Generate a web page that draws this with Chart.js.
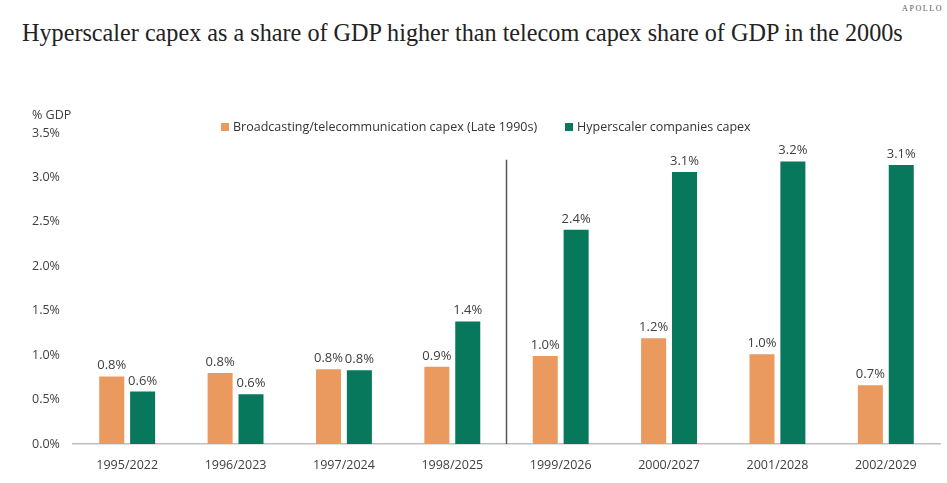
<!DOCTYPE html>
<html lang="en">
<head>
  <meta charset="UTF-8">
  <title>Hyperscaler capex vs telecom capex</title>
  <style>
    body {
      margin: 0;
      width: 947px;
      height: 483px;
      background: #fff;
      overflow: hidden;
      position: relative;
      font-family: "Open Sans", "Noto Sans", sans-serif;
      color: #404040;
    }
    #brand {
      position: absolute;
      left: 902px;
      top: 4px;
      font-family: "Liberation Serif", serif;
      font-size: 8px;
      letter-spacing: 1.6px;
      color: #555;
    }
    #title {
      position: absolute;
      left: 22px;
      top: 19px;
      font-family: "Liberation Serif", serif;
      font-size: 24.2px;
      color: #222;
      white-space: nowrap;
    }
    #unit {
      position: absolute;
      left: 32px;
      top: 106px;
      font-size: 12.5px;
    }
    #legend {
      position: absolute;
      left: 221px;
      top: 118px;
      font-size: 12.5px;
      color: #333;
      white-space: nowrap;
    }
    #legend span.item { margin-right: 28px; }
    #legend span.box {
      display: inline-block;
      width: 8px;
      height: 8px;
      margin-right: 4px;
    }
    #wrap {
      position: absolute;
      left: 0;
      top: 0;
      width: 947px;
      height: 483px;
    }
  </style>
</head>
<body>
  <div id="brand">APOLLO</div>
  <div id="title">Hyperscaler capex as a share of GDP higher than telecom capex share of GDP in the 2000s</div>
  <div id="wrap"><canvas id="chart"></canvas></div>
  <div id="unit">% GDP</div>
  <div id="legend"></div>

  <script src="https://cdn.jsdelivr.net/npm/chart.js"></script>
  <script>
    const periods = ['1995/2022', '1996/2023', '1997/2024', '1998/2025', '1999/2026', '2000/2027', '2001/2028', '2002/2029'];
    const telecomCapex = [0.76, 0.80, 0.84, 0.87, 0.99, 1.19, 1.01, 0.66];
    const hyperscalerCapex = [0.59, 0.56, 0.83, 1.38, 2.41, 3.06, 3.18, 3.14];
    const seriesNames = ['Broadcasting/telecommunication capex (Late 1990s)', 'Hyperscaler companies capex'];
    const seriesColors = ['#EA9A5E', '#07785B'];
    const yTicks = [0, 0.5, 1, 1.5, 2, 2.5, 3, 3.5];

    // legend built from the series names
    document.getElementById('legend').innerHTML = seriesNames.map((n, i) =>
      '<span class="item"><span class="box" style="background:' + seriesColors[i] + '"></span>' + n + '</span>'
    ).join('');

    const font = { family: '"Open Sans", "Noto Sans", sans-serif', size: 12.5 };

    // value labels above bars + divider between the two halves
    const extras = {
      id: 'extras',
      afterDatasetsDraw(chart) {
        const ctx = chart.ctx;
        ctx.save();
        ctx.font = '13px "Open Sans", "Noto Sans", sans-serif';
        ctx.fillStyle = '#404040';
        ctx.textAlign = 'center';
        ctx.textBaseline = 'alphabetic';
        chart.data.datasets.forEach((ds, di) => {
          chart.getDatasetMeta(di).data.forEach((bar, i) => {
            ctx.fillText(ds.data[i].toFixed(1) + '%', bar.x, bar.y - 7);
          });
        });
        const x = chart.scales.x, y = chart.scales.y;
        const xs = (x.getPixelForValue(3) + x.getPixelForValue(4)) / 2;
        ctx.strokeStyle = '#555';
        ctx.lineWidth = 1.5;
        ctx.beginPath();
        ctx.moveTo(xs, y.getPixelForValue(3.2));
        ctx.lineTo(xs, y.getPixelForValue(0));
        ctx.stroke();
        ctx.restore();
      }
    };

    new Chart(document.getElementById('chart'), {
      type: 'bar',
      data: {
        labels: periods,
        datasets: [
          { label: seriesNames[0], data: telecomCapex, backgroundColor: seriesColors[0] },
          { label: seriesNames[1], data: hyperscalerCapex, backgroundColor: seriesColors[1] }
        ]
      },
      options: {
        responsive: true,
        maintainAspectRatio: false,
        animation: false,
        categoryPercentage: 0.57,
        barPercentage: 0.81,
        layout: { padding: { left: 32, right: 7, top: 133, bottom: 10 } },
        plugins: {
          legend: { display: false },
          tooltip: { enabled: false }
        },
        scales: {
          x: {
            afterFit: axis => { axis.height = 29; },
            grid: { display: false, drawTicks: false },
            border: { display: true, color: '#BFBFBF', width: 1.5 },
            ticks: { color: '#404040', font: font, padding: 14 }
          },
          y: {
            min: 0,
            max: 3.5,
            afterBuildTicks: axis => { axis.ticks = yTicks.map(v => ({ value: v })); },
            afterFit: axis => { axis.width = 41; },
            grid: { display: false, drawTicks: false },
            border: { display: false },
            ticks: {
              color: '#404040',
              font: font,
              crossAlign: 'far',
              padding: 0,
              callback: v => v.toFixed(1) + '%'
            }
          }
        }
      },
      plugins: [extras]
    });
  </script>
</body>
</html>
